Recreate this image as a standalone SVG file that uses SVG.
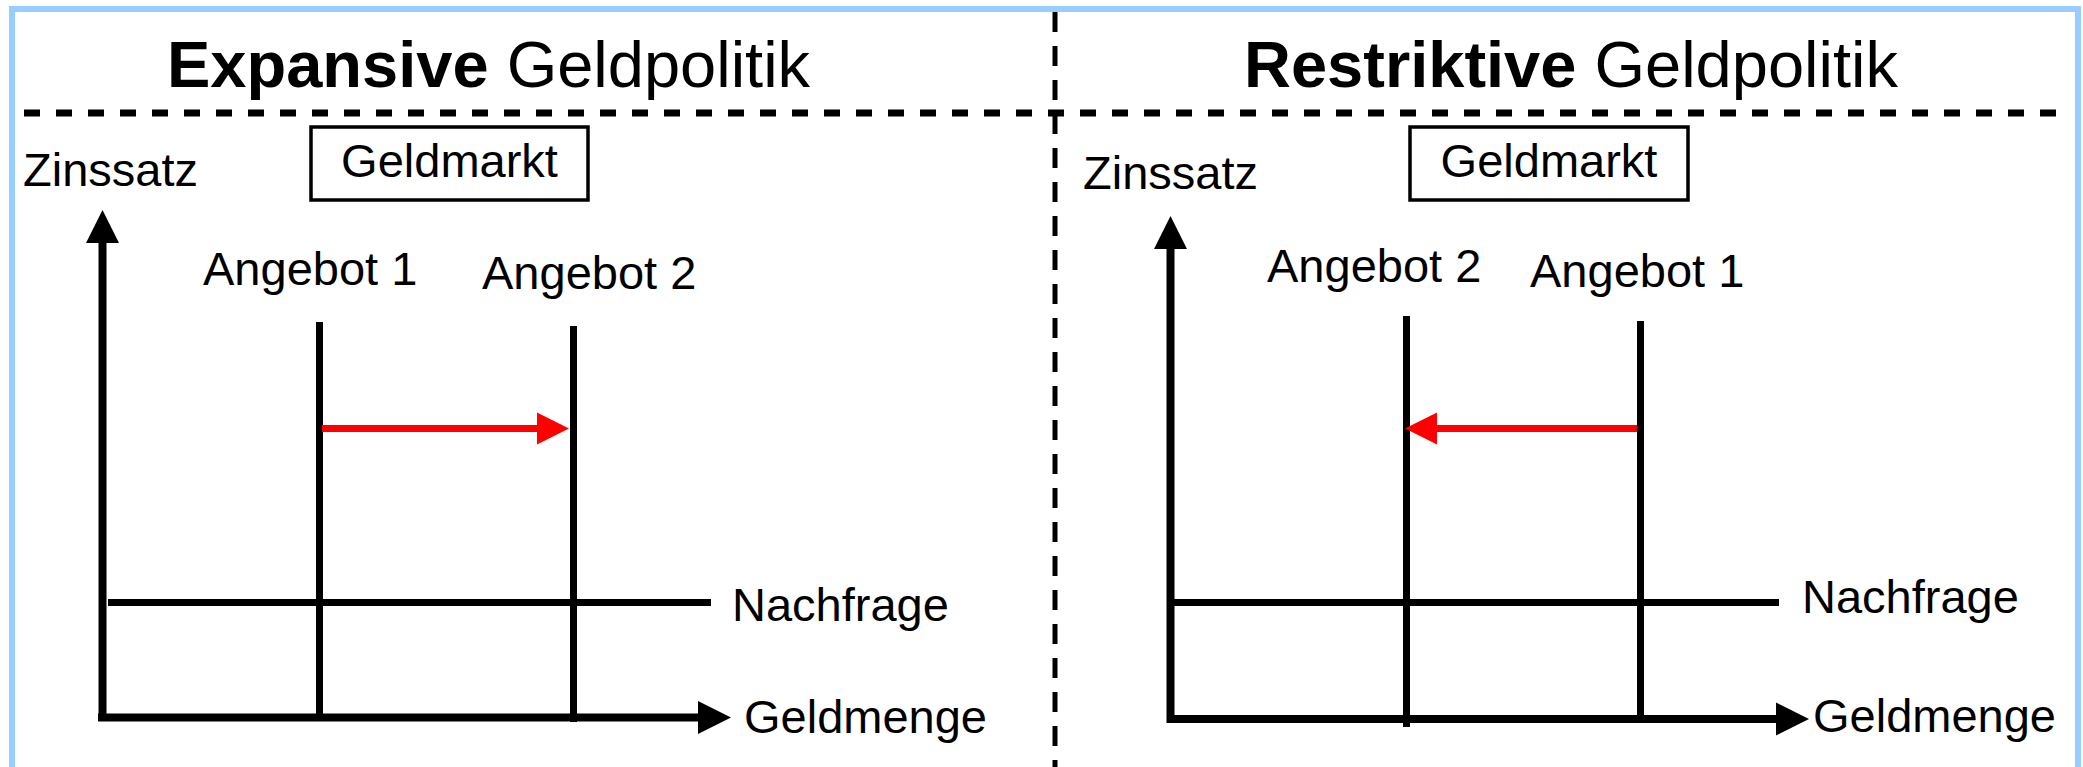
<svg xmlns="http://www.w3.org/2000/svg" width="2083" height="767" viewBox="0 0 2083 767">
<style>
text{font-family:"Liberation Sans",Arial,sans-serif;fill:#000}
.title{font-size:65px}
.lbl{font-size:47px}
.ax{stroke:#000;stroke-width:8;fill:none}
.curve{stroke:#000;stroke-width:7;fill:none}
.shift{stroke:#f00;stroke-width:7;fill:none}
.box{fill:#fff;stroke:#000;stroke-width:3.5}
</style>
<defs>
<marker id="axHead" markerUnits="userSpaceOnUse" markerWidth="34" markerHeight="34" refX="0" refY="16.5" orient="auto" overflow="visible">
<path d="M0,0 L33,16.5 L0,33 z" fill="#000"/>
</marker>
<marker id="redHead" markerUnits="userSpaceOnUse" markerWidth="34" markerHeight="34" refX="0" refY="16" orient="auto" overflow="visible">
<path d="M0,0 L32,16 L0,32 z" fill="#f00"/>
</marker>
</defs>
<rect width="2083" height="767" fill="#fff"/>
<g id="frame">
<path d="M12,767 L12,9 L2078,9 L2078,767" fill="none" stroke="#99ccff" stroke-width="6"/>
<line x1="24" y1="113" x2="2068" y2="113" stroke="#000" stroke-width="7" stroke-dasharray="16 16"/>
<line x1="1055" y1="12" x2="1055" y2="767" stroke="#000" stroke-width="5" stroke-dasharray="20 14"/>
</g>
<g id="title-left"><text class="title" x="167" y="87"><tspan font-weight="bold">Expansive</tspan> Geldpolitik</text></g>
<g id="title-right"><text class="title" x="1244" y="87"><tspan font-weight="bold">Restriktive</tspan> Geldpolitik</text></g>
<g id="market-left"><rect class="box" x="311" y="127" width="277" height="73"/><text class="lbl" x="449.5" y="177" text-anchor="middle">Geldmarkt</text></g>
<g id="market-right"><rect class="box" x="1410" y="127" width="278" height="73"/><text class="lbl" x="1549" y="177" text-anchor="middle">Geldmarkt</text></g>
<g id="labels-left">
<text class="lbl" x="23" y="186">Zinssatz</text>
<text class="lbl" x="203" y="285">Angebot 1</text>
<text class="lbl" x="482" y="289">Angebot 2</text>
<text class="lbl" x="732" y="621">Nachfrage</text>
<text class="lbl" x="744" y="733">Geldmenge</text>
</g>
<g id="labels-right">
<text class="lbl" x="1083" y="189">Zinssatz</text>
<text class="lbl" x="1267" y="282">Angebot 2</text>
<text class="lbl" x="1530" y="287">Angebot 1</text>
<text class="lbl" x="1802" y="613">Nachfrage</text>
<text class="lbl" x="1813" y="732">Geldmenge</text>
</g>
<g id="connectors">
<line class="ax" x1="102.5" y1="721" x2="102.5" y2="243" marker-end="url(#axHead)"/>
<line class="ax" x1="98" y1="717.5" x2="698" y2="717.5" marker-end="url(#axHead)"/>
<line class="curve" x1="319.5" y1="322" x2="319.5" y2="717"/>
<line class="curve" x1="573.5" y1="326" x2="573.5" y2="722"/>
<line class="curve" x1="108" y1="602.5" x2="711" y2="602.5"/>
<line class="shift" x1="322" y1="428.5" x2="537" y2="428.5" marker-end="url(#redHead)"/>
<line class="ax" x1="1170.5" y1="723" x2="1170.5" y2="249" marker-end="url(#axHead)"/>
<line class="ax" x1="1167" y1="719" x2="1776" y2="719" marker-end="url(#axHead)"/>
<line class="curve" x1="1406.5" y1="316" x2="1406.5" y2="727"/>
<line class="curve" x1="1640.5" y1="321" x2="1640.5" y2="719"/>
<line class="curve" x1="1170" y1="602.5" x2="1779" y2="602.5"/>
<line class="shift" x1="1637" y1="428.5" x2="1437" y2="428.5" marker-end="url(#redHead)"/>
</g>
</svg>
